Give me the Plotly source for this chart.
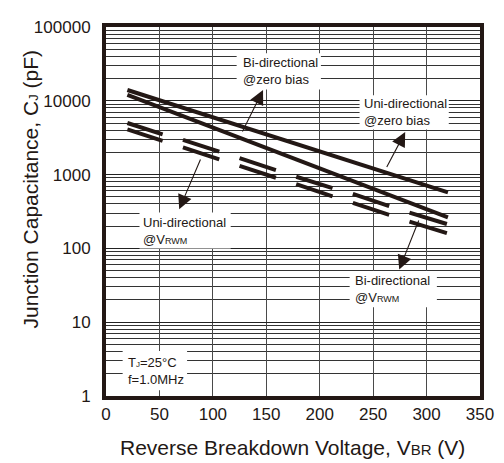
import numpy as np
import plotly.graph_objects as go

# ---- data ----
long_x = [20, 320]
uni_zero_bias = [14000, 575]      # upper long line
bi_zero_bias = [12000, 263]       # lower long line

vrwm_x_start = [20, 72, 125, 178, 231, 284]
vrwm_x_end = [53, 106, 159, 212, 265, 319]
uni_vrwm_start = [5000, 2950, 1670, 935, 547, 306]
uni_vrwm_end = [3515, 2047, 1147, 656, 375, 214]
bi_vrwm_start = [4093, 2335, 1309, 741, 415, 230]
bi_vrwm_end = [2864, 1604, 907, 508, 285, 161]

x_ticks = [0, 50, 100, 150, 200, 250, 300, 350]
y_ticks = [1, 10, 100, 1000, 10000, 100000]
y_tick_labels = ["1", "10", "100", "1000", "10000", "100000"]

# ---- style ----
INK = "#231815"
FONT = "Arial, Liberation Sans, sans-serif"
OFF = 8                      # page body margin of the browser
WIN_W, WIN_H = 504, 463
PL, PR, PT, PB = 106.2, 483.5, 18, 396   # plot area in window pixels
W, H = WIN_W - OFF, WIN_H - OFF
L, T = PL - OFF, PT - OFF
R = W - L - (PR - PL)
B = H - T - (PB - PT)

def seg_trace(xs, xe, ys, ye):
    x, y = [], []
    for a, b, c, d in zip(xs, xe, ys, ye):
        x += [a, b, None]
        y += [c, d, None]
    return go.Scatter(x=x, y=y, mode="lines", line=dict(color=INK, width=4),
                      hoverinfo="skip", showlegend=False)

fig = go.Figure()
fig.add_trace(go.Scatter(x=long_x, y=uni_zero_bias, mode="lines",
                         line=dict(color=INK, width=4), showlegend=False))
fig.add_trace(go.Scatter(x=long_x, y=bi_zero_bias, mode="lines",
                         line=dict(color=INK, width=4), showlegend=False))
fig.add_trace(seg_trace(vrwm_x_start, vrwm_x_end, uni_vrwm_start, uni_vrwm_end))
fig.add_trace(seg_trace(vrwm_x_start, vrwm_x_end, bi_vrwm_start, bi_vrwm_end))

def px2paper(px, py):
    return (px - PL) / (PR - PL), (PB - py) / (PB - PT)

shapes = []
annotations = []

# label boxes (window pixel boxes: x0, x1, y0, y1) and texts
labels = [
    ((238, 323, 45, 82), 242, "Bi-directional<br>@zero bias"),
    ((362, 452, 88, 123), 364, "Uni-directional<br>@zero bias"),
    ((140, 232, 208, 245), 142, "Uni-directional<br>@V<span style='font-size:9px'>RWM</span>"),
    ((352, 440, 268, 305), 355, "Bi-directional<br>@V<span style='font-size:9px'>RWM</span>"),
    ((123, 188, 350, 390), 126, "T<span style='font-size:8px'>J</span>=25°C<br>f=1.0MHz"),
]
for (x0, x1, y0, y1), tx, txt in labels:
    a0, b0 = px2paper(x0, y1)
    a1, b1 = px2paper(x1, y0)
    shapes.append(dict(type="rect", xref="paper", yref="paper", x0=a0, x1=a1,
                       y0=b0, y1=b1, fillcolor="white", line=dict(width=0),
                       layer="above"))
    ax_, ay_ = px2paper(tx, (y0 + y1) / 2)
    annotations.append(dict(xref="paper", yref="paper", x=ax_, y=ay_, text=txt,
                            showarrow=False, xanchor="left", yanchor="middle",
                            align="left", font=dict(family=FONT, size=13, color=INK)))

# arrows: (head_x, head_y, tail_x, tail_y) in data units
arrows = [
    (147, 13990, 127, 3656),
    (280, 3767, 262, 1208),
    (68.5, 339, 89, 1679),
    (274.4, 51.6, 293.2, 250),
]
for hx, hy, tx, ty in arrows:
    annotations.append(dict(x=hx, y=np.log10(hy), ax=tx, ay=np.log10(ty),
                            xref="x", yref="y", axref="x", ayref="y",
                            text="", showarrow=True, arrowhead=2, arrowsize=2.6,
                            arrowwidth=1.1, arrowcolor=INK))

# axis titles
tx, ty = px2paper(30, 184)
annotations.append(dict(xref="paper", yref="paper", x=tx, y=ty, textangle=-90,
                        text="Junction Capacitance, C<span style='font-size:13px'>J</span> (pF)",
                        showarrow=False, xanchor="center", yanchor="middle",
                        font=dict(family=FONT, size=21, color=INK)))
tx, ty = px2paper(294, 449)
annotations.append(dict(xref="paper", yref="paper", x=tx, y=ty,
                        text="Reverse Breakdown Voltage, V<span style='font-size:15px'>BR</span> (V)",
                        showarrow=False, xanchor="center", yanchor="middle",
                        font=dict(family=FONT, size=21, color=INK)))

minor_vals = [m * 10 ** k for k in range(0, 5) for m in range(2, 10)]

fig.update_layout(
    width=W, height=H,
    margin=dict(l=L, r=R, t=T, b=B, pad=0),
    paper_bgcolor="white", plot_bgcolor="white",
    shapes=shapes, annotations=annotations,
    font=dict(family=FONT, color=INK),
    xaxis=dict(range=[0, 350], tickvals=x_ticks, ticks="", showgrid=True,
               gridcolor="#4a4a4a", gridwidth=1.3, zeroline=False,
               showline=True, linecolor=INK, linewidth=4, mirror=True,
               tickfont=dict(family=FONT, size=17, color=INK),
               ticklabelstandoff=0),
    yaxis=dict(type="log", range=[0, 5], tickvals=y_ticks, ticktext=y_tick_labels,
               ticks="", showgrid=True, gridcolor="#222222", gridwidth=1.2,
               zeroline=False, showline=True, linecolor=INK, linewidth=4,
               mirror=True, tickfont=dict(family=FONT, size=17, color=INK),
               ticklabelstandoff=8,
               minor=dict(tickvals=minor_vals, showgrid=True, gridcolor="#333333",
                          gridwidth=1, ticks="")),
)

fig.write_html("out.html")
